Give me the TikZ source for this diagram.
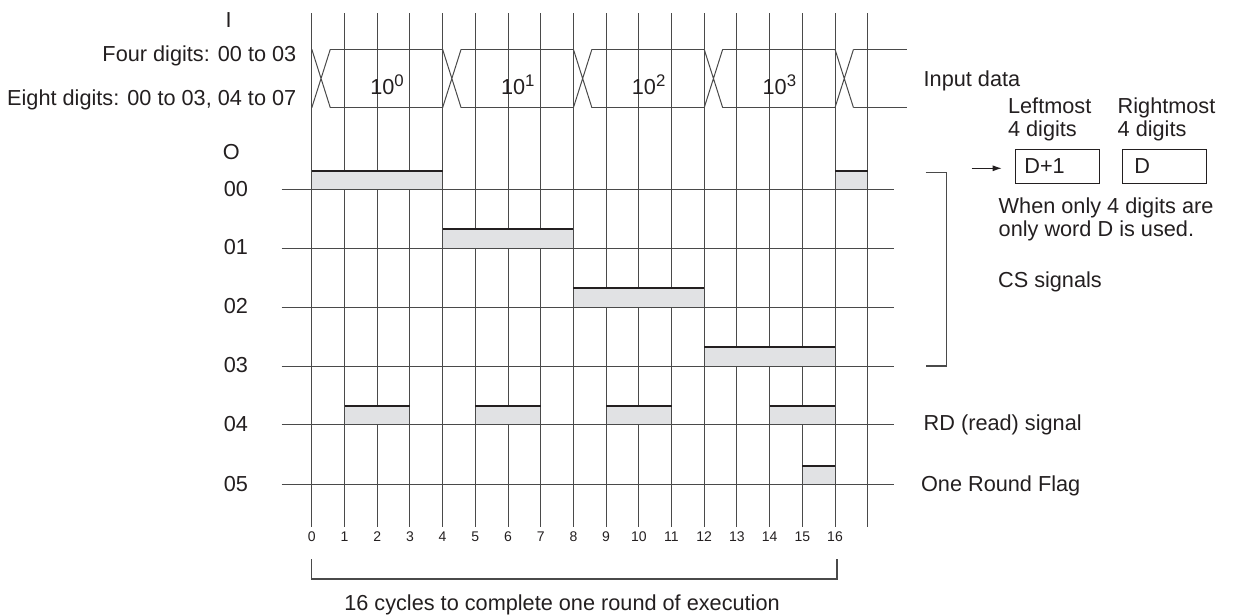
\documentclass[tikz,border=0pt]{standalone}
\usepackage{fontspec}
\setmainfont{Liberation Sans}
\usetikzlibrary{arrows.meta}
\definecolor{barfill}{HTML}{E1E2E4}
\definecolor{ink}{HTML}{231F20}
\definecolor{gridc}{HTML}{4A4A4A}
\newcommand\sigbar[3]{%
  \fill[barfill] ({311.8+32.7*#1},#3-18.7) rectangle ({311.8+32.7*#2},#3);
  \draw[gridc,line width=0.5pt] ({311.8+32.7*#1},#3) -- ({311.8+32.7*#1},#3-18.7)
       ({311.8+32.7*#2},#3) -- ({311.8+32.7*#2},#3-18.7);
  \draw[ink,line width=0.9pt] ({311.8+32.7*#1},#3-18.7) -- ({311.8+32.7*#2},#3-18.7);}
\newcommand\supten[1]{10\raisebox{4.15pt}{\fontsize{8.4}{9}\selectfont #1}}
\begin{document}
\begin{tikzpicture}[x=0.5pt,y=-0.5pt,
  txt/.style={inner sep=0pt,text=ink,font=\fontsize{10.85}{13}\selectfont},
  num/.style={inner sep=0pt,text=ink,font=\fontsize{7}{8}\selectfont},
  gridline/.style={draw=gridc,line width=0.5pt},
  sigline/.style={draw=gridc,line width=0.5pt},
  wave/.style={draw=gridc,line width=0.5pt},
  bracketline/.style={draw=gridc,line width=0.6pt},
  databox/.style={draw=ink,line width=0.5pt,inner sep=0pt,minimum width=41.9pt,minimum height=17pt}]
\useasboundingbox (0,0) rectangle (1233,616);
% vertical grid lines
\foreach \k in {0,...,17} {
  \draw[gridline] ({311.8+32.7*\k},13.3) -- ({311.8+32.7*\k},526.7);
}
% signal base lines
\foreach \yy in {189.3,248,307,366,424.3,484.3} {
  \draw[sigline] (281.7,\yy) -- (894,\yy);
}
% bars
\sigbar{0}{4}{189.3}
\sigbar{16}{17}{189.3}
\sigbar{4}{8}{248}
\sigbar{8}{12}{307}
\sigbar{12}{16}{366}
\sigbar{1}{3}{424.3}
\sigbar{5}{7}{424.3}
\sigbar{9}{11}{424.3}
\sigbar{14}{16}{424.3}
\sigbar{15}{16}{484.3}
% input data waveform
\foreach \k in {0,4,8,12,16} {
  \draw[wave] ({311.8+32.7*\k},49.3) -- ({311.8+32.7*\k+18.5},107.7)
              ({311.8+32.7*\k},107.7) -- ({311.8+32.7*\k+18.5},49.3);
}
\foreach \k in {0,4,8,12} {
  \draw[wave] ({311.8+32.7*\k+18.5},49.3) -- ({311.8+32.7*(\k+4)},49.3)
              ({311.8+32.7*\k+18.5},107.7) -- ({311.8+32.7*(\k+4)},107.7);
}
\draw[wave] ({311.8+32.7*16+18.5},49.3) -- (906.7,49.3)
            ({311.8+32.7*16+18.5},107.7) -- (906.7,107.7);
\node[txt,anchor=base] (d0) at (387,94.3) {\supten{0}};
\node[txt,anchor=base] (d1) at (517.8,94.3) {\supten{1}};
\node[txt,anchor=base] (d2) at (648.6,94.3) {\supten{2}};
\node[txt,anchor=base] (d3) at (779.4,94.3) {\supten{3}};
% left labels
\node[txt,anchor=base] (lI) at (228.7,27.3) {I};
\node[txt,anchor=base east] (l4) at (296.7,61.5) {Four digits: 00 to 03};
\node[txt,anchor=base east] (l8) at (296.7,105) {Eight digits: 00 to 03, 04 to 07};
\node[txt,anchor=base west] (lO) at (222.5,159.3) {O};
\node[txt,anchor=base east] (s0) at (248.3,196) {00};
\node[txt,anchor=base east] (s1) at (248.3,254.5) {01};
\node[txt,anchor=base east] (s2) at (248.3,313.5) {02};
\node[txt,anchor=base east] (s3) at (248.3,372.5) {03};
\node[txt,anchor=base east] (s4) at (248.3,431) {04};
\node[txt,anchor=base east] (s5) at (248.3,491) {05};
% cycle numbers
\foreach \k in {0,...,16} {
  \node[num,anchor=base] (n\k) at ({311.8+32.7*\k},541.7) {\k};
}
% bottom bracket
\coordinate (bl) at (311.5,559);
\coordinate (br) at (837,559);
\draw[bracketline] (bl) -- (311.5,579) -- (837,579) -- (br);
\node[txt,anchor=base] (cyc) at (562,610.3) {16 cycles to complete one round of execution};
% right side
\node[txt,anchor=base west] (inp) at (923.3,86.7) {Input data};
\node[txt,anchor=base west] (lm1) at (1007.7,113.3) {Leftmost};
\node[txt,anchor=base west] (lm2) at (1007.7,136) {4 digits};
\node[txt,anchor=base west] (rm1) at (1117.3,113.3) {Rightmost};
\node[txt,anchor=base west] (rm2) at (1117.3,136) {4 digits};
\node[databox] (bD1) at (1057.6,166.3) {};
\node[databox] (bD) at (1164.2,166.3) {};
\node[txt,anchor=base west] (tD1) at (1024,173.3) {D+1};
\node[txt,anchor=base west] (tD) at (1134,173.3) {D};
\coordinate (arrS) at (971.7,168.3);
\coordinate (arrE) at (1001.7,168.3);
\draw[ink,line width=0.5pt,-{Latex[length=4.5pt,width=3pt]}] (arrS) -- (arrE);
\node[txt,anchor=base west] (wh1) at (998.3,213.3) {When only 4 digits are};
\node[txt,anchor=base west] (wh2) at (998.3,236.7) {only word D is used.};
\draw[bracketline] (925.7,172.7) -- (946.7,172.7) -- (946.7,366) -- (925.7,366);
\node[txt,anchor=base west] (cs) at (997.7,287) {CS signals};
\node[txt,anchor=base west] (rd) at (923.3,430) {RD (read) signal};
\node[txt,anchor=base west] (orf) at (920.7,491) {One Round Flag};
\end{tikzpicture}
\end{document}
